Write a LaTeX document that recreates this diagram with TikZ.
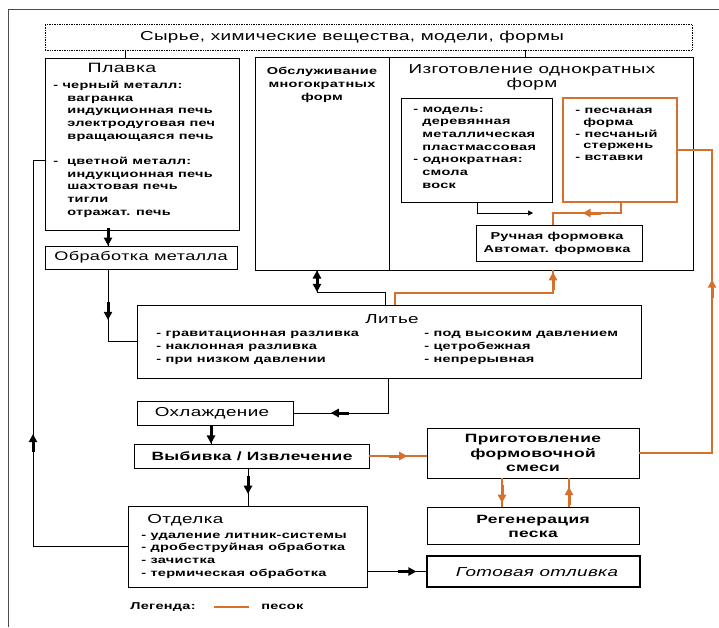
\documentclass[tikz,border=0pt]{standalone}
\usepackage{fontspec}
\setmainfont{Liberation Sans}[FakeStretch=1.45,LetterSpace=3]
\usetikzlibrary{arrows.meta,decorations.markings,fit}
\definecolor{sandc}{RGB}{214,112,44}
\tikzset{
  blk/.style={draw, inner sep=0pt, line width=0.7pt},
  ttl/.style={font=\fontsize{13}{14}\selectfont, inner sep=0pt, align=center},
  bttl/.style={font=\bfseries\fontsize{11}{13.5}\selectfont, inner sep=0pt, align=center},
  lst/.style={font=\bfseries\fontsize{10}{12.7}\selectfont, inner sep=0pt, align=left, anchor=base west},
  sand/.style={color=sandc, line width=1.4pt},
  tip/.style={-{Triangle[length=5pt,width=5pt]}},
  midarr/.style={postaction={decorate}, decoration={markings,
    mark=at position #1 with {\fill (-18pt,-1.5pt) rectangle (-7pt,1.5pt);
      \fill (0,0) -- (-8pt,4.4pt) -- (-8pt,-4.4pt) -- cycle;}}},
}
\begin{document}
\begin{tikzpicture}[x=1pt,y=-1pt,line width=0.7pt]
\path[fill=white, use as bounding box] (0,0) rectangle (719,627);
% frame
\draw[black!70] (8,627) -- (8,9) -- (719,9);

% raw materials
\node[blk, densely dotted, fit={(45,24) (692,50)}] (raw) {};
\node[ttl] (rawtxt) at (352,37) {Сырье, химические вещества, модели, формы};

% melting
\node[blk, fit={(45,58) (239,230)}] (melt) {};
\node[ttl, font=\fontsize{13.5}{14}\selectfont] (melttxt) at (122,68) {Плавка};
\node[lst] (meltlst) at (53,215.3) {- черный металл:\\
  \hspace{14pt}вагранка\\
  \hspace{14pt}индукционная печь\\
  \hspace{14pt}электродуговая печ\\
  \hspace{14pt}вращающаяся печь\\[12.7pt]
  -\hspace{9pt}цветной металл:\\
  \hspace{14pt}индукционная печь\\
  \hspace{14pt}шахтовая печь\\
  \hspace{14pt}тигли\\
  \hspace{14pt}отражат. печь};

\node[blk, fit={(45,246) (237,269)}] (proc) {};
\node[ttl, font=\fontsize{12.5}{14}\selectfont] (proctxt) at (141,257.5) {Обработка металла};

% moulds
\node[blk, fit={(255,57) (389,270)}] (serv) {};
\node[bttl, font=\bfseries\fontsize{10}{13}\selectfont] (servtxt) at (322,85) {Обслуживание\\многократных\\форм};
\node[blk, fit={(389,57) (693,270)}] (make) {};
\node[ttl] (maketxt) at (532,77) {Изготовление однократных\\форм};

\node[blk, fit={(401,98) (552,202)}] (model) {};
\node[lst] (modellst) at (413,188.3) {- модель:\\
  \hspace{9pt}деревянная\\
  \hspace{9pt}металлическая\\
  \hspace{9pt}пластмассовая\\
  - однократная:\\
  \hspace{9pt}смола\\
  \hspace{9pt}воск};

\node[blk, draw=sandc, line width=1.6pt, fit={(563,98) (677,202)}] (sandb) {};
\node[lst, font=\bfseries\fontsize{10}{11.6}\selectfont] (sandlst) at (575,160.3) {- песчаная\\
  \hspace{8pt}форма\\
  - песчаный\\
  \hspace{8pt}стержень\\
  - вставки};

\node[blk, fit={(476,225) (642,261)}] (form) {};
\node[bttl, font=\bfseries\fontsize{10}{13}\selectfont] (formtxt) at (557,243.5) {Ручная формовка\\Автомат. формовка};

% casting
\node[blk, fit={(137,305) (641,378)}] (cast) {};
\node[ttl] (casttxt) at (392,319) {Литье};
\node[lst] (castl) at (156,362.3) {- гравитационная разливка\\- наклонная разливка\\- при низком давлении};
\node[lst] (castr) at (424,362.3) {- под высоким давлением\\- цетробежная\\- непрерывная};

\node[blk, fit={(137,401) (293,425)}] (cool) {};
\node[ttl] (cooltxt) at (212,413) {Охлаждение};

\node[blk, fit={(134,444) (369,468)}] (knock) {};
\node[bttl, font=\bfseries\fontsize{12}{14}\selectfont] (knocktxt) at (252,456) {Выбивка / Извлечение};

\node[blk, fit={(128,506) (367,587)}] (fin) {};
\node[ttl, anchor=west] (fintxt) at (147,520) {Отделка};
\node[lst] (finlst) at (141,576.3) {- удаление литник-системы\\- дробеструйная обработка\\- зачистка\\- термическая обработка};

% sand
\node[blk, fit={(427,428) (639,478)}] (prep) {};
\node[bttl, font=\bfseries\fontsize{12}{14.5}\selectfont] (preptxt) at (533,453) {Приготовление\\формовочной\\смеси};
\node[blk, fit={(427,507) (639,544)}] (regen) {};
\node[bttl, font=\bfseries\fontsize{12}{14}\selectfont] (regentxt) at (533,526) {Регенерация\\песка};
\node[blk, line width=1.4pt, fit={(427,556) (640,587)}] (done) {};
\node[ttl, font=\itshape\fontsize{13}{14}\selectfont] (donetxt) at (537,572) {Готовая отливка};

% legend
\node[lst, anchor=west] (leg) at (130,607) {Легенда:};
\node[lst, anchor=west] (legsand) at (261,607) {песок};
\draw[sand] ([xshift=18pt]leg.east) -- ([xshift=-12pt]legsand.west);

% black flow
\draw (raw.south -| 125,0) -- (125,0 |- melt.north);
\draw (raw.south -| 525,0) -- (525,0 |- make.north);
\draw[midarr=0.99] (melt.south -| 108,0) -- (108,0 |- proc.north);
\draw[midarr=0.5] (proc.south -| 108,0) |- (cast.west);
\coordinate (sj) at (317,292);
\draw[midarr=0.99] (sj) -- (serv.south -| sj);
\draw[midarr=0.99] (serv.south -| sj) -- (sj);
\draw (sj) -| (cast.north -| 385,0);
\draw[midarr=0.71] (cast.south -| 388,0) |- (cool.east);
\draw[midarr=0.99] (cool.south -| 211,0) -- (211,0 |- knock.north);
\draw[midarr=0.68] (knock.south -| 248,0) -- (248,0 |- fin.north);
\draw[midarr=0.83] (fin.east |- done.west) -- (done.west);
\coordinate (back) at (33,160);
\draw[midarr=0.42] (fin.west) -| (back) -- (back -| melt.west);
\coordinate (mj) at (553,213);
\draw[tip] (model.south -| 477,0) |- ([xshift=-20pt]mj);

% sand flow
\draw[sand, midarr=0.54] (sandb.south -| 621,0) |- (mj) -- (mj |- form.north);
\coordinate (cj) at (553,293);
\draw[sand, midarr=0.99] (cast.north -| 395,0) |- (cj) -- (cj |- make.south);
\draw[sand, midarr=0.66] (knock.east) -- (knock.east -| prep.west);
\coordinate (sc) at (712,150);
\draw[sand, midarr=0.6] (prep.east) -| (sc) -- (sc -| sandb.east);
\draw[sand, midarr=0.86] (prep.south -| 502,0) -- (502,0 |- regen.north);
\draw[sand, midarr=0.69] (regen.north -| 569,0) -- (569,0 |- prep.south);
\end{tikzpicture}
\end{document}
